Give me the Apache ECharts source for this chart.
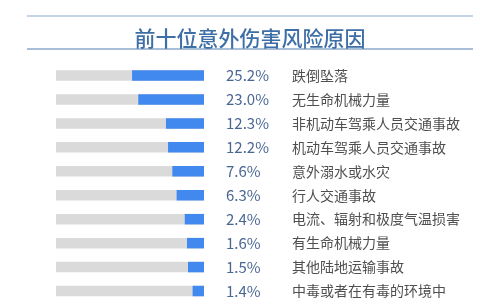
<!DOCTYPE html>
<html>
<head>
<meta charset="utf-8">
<script src="https://cdn.jsdelivr.net/npm/echarts@6/dist/echarts.min.js"></script>
<style>html,body{margin:0;padding:0;background:#fff;}#c{width:500px;height:303px;}</style>
</head>
<body>
<div id="c"></div>
<script>
var titleText = '前十位意外伤害风险原因';
var categories = ['跌倒坠落','无生命机械力量','非机动车驾乘人员交通事故','机动车驾乘人员交通事故','意外溺水或水灾','行人交通事故','电流、辐射和极度气温损害','有生命机械力量','其他陆地运输事故','中毒或者在有毒的环境中'];
var shareLabels = ['25.2%','23.0%','12.3%','12.2%','7.6%','6.3%','2.4%','1.6%','1.5%','1.4%'];
// drawn bar lengths (percent of grey track)
var barLengths = [48.6, 44.4, 25.7, 24.3, 21.4, 18.5, 13.0, 11.5, 10.8, 7.7];

var chart = echarts.init(document.getElementById('c'), null, {renderer:'canvas'});
var FONT = '"Noto Sans CJK SC", "Noto Sans", sans-serif';
chart.setOption({
  animation: false,
  backgroundColor: '#fff',
  title: {
    text: titleText, left: 'center', top: 23,
    textStyle: {color: '#3d6ea6', fontSize: 21, fontWeight: 500, fontFamily: FONT}
  },
  graphic: [
    {type:'line', shape:{x1:27,y1:16,x2:473,y2:16}, style:{stroke:'#b0c6dc', lineWidth:1.5}},
    {type:'line', shape:{x1:27,y1:49,x2:473,y2:49}, style:{stroke:'#a9bfd8', lineWidth:2}}
  ],
  grid: {left: 56, right: 296, top: 63.5, height: 239.5},
  xAxis: {type:'value', min:0, max:100, inverse:true, show:false},
  yAxis: {
    type:'category', data: categories, inverse:true, position:'right',
    axisLine:{show:false}, axisTick:{show:false}, splitLine:{show:false},
    axisLabel: {
      margin: 22,
      formatter: function(v, i){ return '{v|' + shareLabels[i] + '}{n|' + v + '}'; },
      rich: {
        v: {width: 66, fontSize: 15, color: '#4a6794', fontFamily: FONT},
        n: {fontSize: 14, color: '#4f4f4f', fontFamily: FONT}
      }
    }
  },
  series: [{
    type:'bar', data: barLengths, barWidth: 10.5,
    itemStyle:{color:'#4189ee'},
    showBackground: true,
    backgroundStyle:{color:'#dadada'}
  }]
});
</script>
</body>
</html>
